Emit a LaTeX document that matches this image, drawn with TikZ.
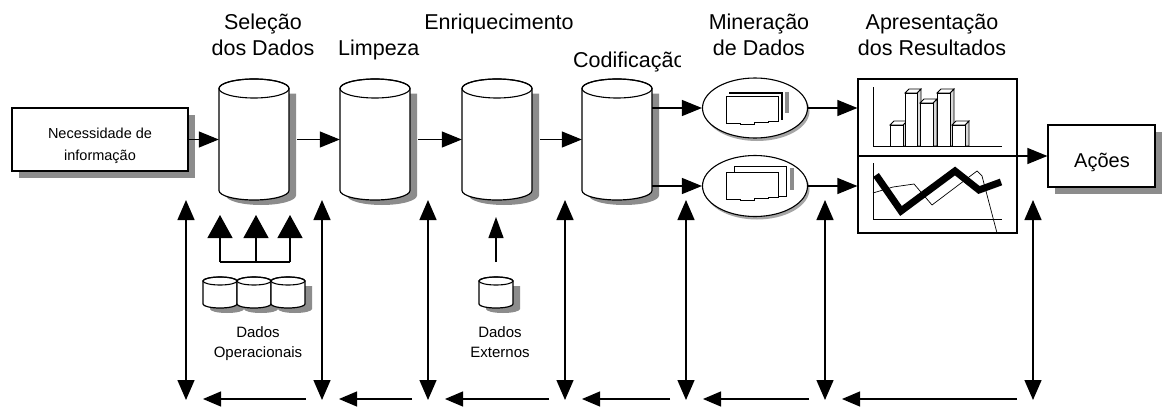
\documentclass[tikz,border=0pt]{standalone}
\usepackage{fontspec}
\setmainfont{Liberation Sans}
\usetikzlibrary{arrows.meta,shapes.geometric,shadows,calc}

% vertical database drum: centre x, top-ellipse y, bottom-ellipse y, rx, ry
\newcommand{\dbcyl}[5]{%
  \fill[black!45] ({#1-#4+7},{#2+5}) -- ({#1-#4+7},{#3+5})
     arc[start angle=180,end angle=360,x radius=#4pt,y radius=#5pt]
     -- ({#1+#4+7},{#2+5}) -- cycle;
  \path[outline] ({#1-#4},#2) -- ({#1-#4},#3)
     arc[start angle=180,end angle=360,x radius=#4pt,y radius=#5pt]
     -- ({#1+#4},#2)
     arc[start angle=0,end angle=180,x radius=#4pt,y radius=#5pt] -- cycle;
  \draw[line width=1.1pt] (#1,#2) ellipse[x radius=#4pt,y radius=#5pt];
}
% document sheet with ragged lower edge, top-left corner given
\newcommand{\sheet}[2]{%
  \path[draw=black,fill=white,line width=1pt] (#1,#2) -- ++(52,0) -- ++(0,25)
     -- ++(-10,0) -- ++(0,1.5) -- ++(-14,0) -- ++(0,1.5) -- ++(-14,0)
     -- ++(0,-1) -- ++(-14,0) -- cycle;
}
% bar with 3-D top and side faces: left x, right x, top y (base at 146)
\newcommand{\chartbar}[3]{%
  \path[draw=black,fill=black!15,line width=0.8pt] (#2,#3) -- ({#2+4},{#3-4}) -- ({#2+4},146) -- (#2,146) -- cycle;
  \path[draw=black,fill=white,line width=0.8pt] (#1,#3) -- ({#1+4},{#3-4}) -- ({#2+4},{#3-4}) -- (#2,#3) -- cycle;
  \path[draw=black,fill=white,line width=1pt] (#1,#3) rectangle (#2,146);
}

\begin{document}
\begin{tikzpicture}[x=1pt,y=-1pt,
  outline/.style={draw=black,line width=1.2pt,fill=white},
  boxshadow/.style={drop shadow={shadow xshift=7pt,shadow yshift=-7pt,fill=black!45,opacity=1}},
  boxnode/.style={outline,rectangle,inner sep=0pt,boxshadow},
  anchorbox/.style={rectangle,inner sep=0pt,draw=none},
  flow/.style={line width=1.2pt,-{Triangle[length=20pt,width=16pt]}},
  both/.style={line width=1.4pt,{Triangle[length=20pt,width=17pt]}-{Triangle[length=20pt,width=17pt]}},
  back/.style={line width=1.2pt,-{Triangle[length=18pt,width=15pt]}},
  bigup/.style={line width=1.2pt,-{Triangle[length=23pt,width=25pt]}},
  smallup/.style={line width=1.2pt,-{Triangle[length=21pt,width=15pt]}},
  title/.style={font=\fontsize{21.5}{26}\selectfont,align=center,inner sep=0pt},
  small/.style={font=\fontsize{15}{20}\selectfont,align=center,inner sep=0pt},
  note/.style={font=\fontsize{14.5}{22}\selectfont,align=center,inner sep=0pt},
]
\useasboundingbox[fill=white] (0,0) rectangle (1165,407);

% ---------- stage titles (base = last line) ----------
\node[title,anchor=base] (tsel) at (263,55) {Seleção\\dos Dados};
\node[title,anchor=base west] (tlim) at (338,55) {Limpeza};
\node[title,anchor=base] (tenr) at (499,29) {Enriquecimento};
\begin{scope}
  \clip (560,30) rectangle (680,75);
  \node[title,anchor=base west] (tcod) at (573,67) {Codificação};
\end{scope}
\node[title,anchor=base] (tmin) at (759,55) {Mineração\\de Dados};
\node[title,anchor=base] (tapr) at (932,55) {Apresentação\\dos Resultados};

% ---------- anchors of the drums ----------
\node[anchorbox,minimum width=70pt,minimum height=121pt] (c1) at (254,139.5) {};
\node[anchorbox,minimum width=70pt,minimum height=121pt] (c2) at (375,139.5) {};
\node[anchorbox,minimum width=70pt,minimum height=121pt] (c3) at (497,139.5) {};
\node[anchorbox,minimum width=70pt,minimum height=121pt] (c4) at (617,139.5) {};

% ---------- start and end boxes ----------
\node[boxnode,minimum width=176pt,minimum height=63pt] (need) at (100,139.5) {};
\node[note,anchor=base] (needtxt) at (100,160) {Necessidade de\\informação};
\node[boxnode,minimum width=107pt,minimum height=62pt] (acoes) at (1101.5,156) {};
\node[title,anchor=base,font=\fontsize{20}{24}\selectfont] (acoestxt) at (1102,167) {Ações};

% ---------- main flow ----------
\draw[flow] (need.east) -- (c1.west);
\draw[flow,shorten <=8pt] (c1.east) -- (c2.west);
\draw[flow,shorten <=8pt] (c2.east) -- (c3.west);
\draw[flow,shorten <=8pt] (c3.east) -- (c4.west);

\dbcyl{254}{88.5}{190.5}{35}{9.5}
\dbcyl{375}{88.5}{190.5}{35}{9.5}
\dbcyl{497}{88.5}{190.5}{35}{9.5}
\dbcyl{617}{88.5}{190.5}{35}{9.5}

% ---------- data mining ----------
\node[ellipse,draw=black,line width=1.1pt,fill=white,minimum width=105pt,minimum height=60pt,
  drop shadow={shadow xshift=2pt,shadow yshift=-3pt,fill=black!35,opacity=1}] (m1) at (755,108) {};
\node[ellipse,draw=black,line width=1.1pt,fill=white,minimum width=105pt,minimum height=61pt,
  drop shadow={shadow xshift=2pt,shadow yshift=-3pt,fill=black!35,opacity=1}] (m2) at (755,186) {};
\draw[flow] (c4.east |- m1.west) -- (m1.west);
\draw[flow] (c4.east |- m2.west) -- (m2.west);

% stacked sheets
\fill[black!45] (785,92) rectangle (789,113);
\draw[line width=2.2pt] (729,93) -- (782,93) -- (782,120);
\sheet{726}{96}
\fill[black!45] (790,168) rectangle (794,190);
\path[draw=black,fill=white,line width=1pt] (734,166) rectangle (786,196);
\sheet{726}{172}

% ---------- presentation ----------
\node[anchorbox,draw=black,line width=1.2pt,fill=white,minimum width=159pt,minimum height=154pt] (pres) at (937.5,156) {};
\draw[flow] (m1.east) -- (m1.east -| pres.west);
\draw[flow] (m2.east) -- (m2.east -| pres.west);
\draw[flow] (pres.west) -- (acoes.west);

% bar chart
\chartbar{890}{903}{125}
\chartbar{905}{917}{93}
\chartbar{920}{933}{103}
\chartbar{937}{950}{93}
\chartbar{952}{965}{125}
\draw[line width=1pt] (873,87) -- (873,146) -- (1002,146);

% line chart
\draw[line width=1pt] (873,163) -- (873,219) -- (1002,219);
\draw[line width=0.7pt] (873,193) -- (893,187) -- (914,184) -- (932,205) -- (977,171) -- (982,176) -- (997,233);
\draw[line width=7pt,line join=miter] (876,175) -- (901,211) -- (955,171) -- (979,190) -- (1001,182);

% ---------- operational and external sources ----------
\coordinate (o1) at (220,262);
\coordinate (o2) at (256,262);
\coordinate (o3) at (290,262);
\coordinate (o1t) at (220,215);
\coordinate (o2t) at (256,215);
\coordinate (o3t) at (290,215);
\draw[line width=1.2pt] (o1) -- (o3);
\draw[bigup] (o1) -- (o1t);
\draw[bigup] (o2) -- (o2t);
\draw[bigup] (o3) -- (o3t);
\dbcyl{220}{281}{304}{17}{4}
\dbcyl{254}{281}{304}{17}{4}
\dbcyl{288}{281}{304}{17}{4}
\node[small,anchor=base] (optxt) at (258,357) {Dados\\Operacionais};

\coordinate (e1) at (496,262);
\coordinate (e1t) at (496,217);
\draw[smallup] (e1) -- (e1t);
\dbcyl{496}{281}{304}{17}{4}
\node[small,anchor=base] (extxt) at (500,357) {Dados\\Externos};

% ---------- feedback arrows ----------
\foreach \i/\x in {1/186,2/322,3/428,4/565,5/686,6/825,7/1033}{
  \coordinate (v\i t) at (\x,200);
  \coordinate (v\i b) at (\x,400);
  \draw[both] (v\i t) -- (v\i b);
}
\foreach \i/\j in {2/1,3/2,4/3,5/4,6/5,7/6}{
  \draw[back] ($(v\i b)+(-16,-1)$) -- ($(v\j b)+(17,-1)$);
}
\end{tikzpicture}
\end{document}
